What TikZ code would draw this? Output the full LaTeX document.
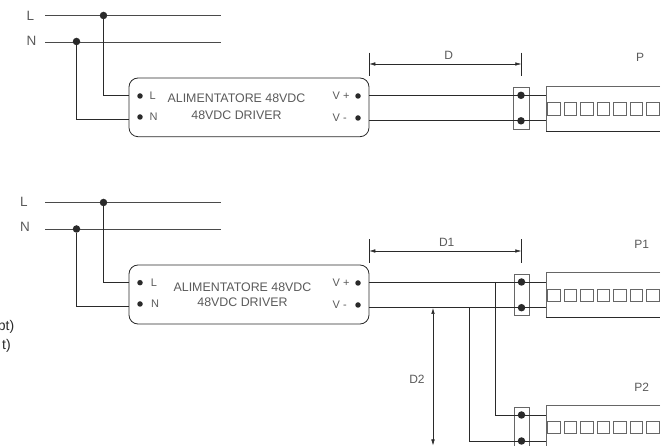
\documentclass[tikz,border=0pt]{standalone}
\usepackage{fontspec}
\setmainfont{Liberation Sans}
\usetikzlibrary{arrows.meta}
\definecolor{ink}{HTML}{2A2A2A}
\definecolor{txt}{HTML}{5A5A5A}
\definecolor{bord}{HTML}{666666}
\tikzset{
  x=1pt,y=-1pt,
  wire/.style={draw=ink,line width=0.8pt},
  mains/.style={draw=ink!85,line width=1pt},
  driver/.style={draw=ink,line width=0.8pt,rounded corners=9pt},
  dotbig/.style={circle,fill=ink,inner sep=0pt,minimum size=7.5pt},
  dotsmall/.style={circle,fill=ink,inner sep=0pt,minimum size=5.5pt},
  lab/.style={text=txt,font=\fontsize{12}{14}\selectfont,inner sep=0pt},
  mainlab/.style={text=txt,font=\fontsize{13.5}{15}\selectfont,inner sep=0pt},
  labs/.style={text=txt,font=\fontsize{11}{13}\selectfont,inner sep=0pt},
  drvlab/.style={text=txt,align=center,inner sep=0pt},
  term/.style={draw=bord,line width=0.8pt},
  stripedge/.style={draw=bord,line width=0.9pt},
  cell/.style={draw=bord,line width=0.7pt},
  dimline/.style={draw=ink,line width=0.5pt,{Latex[length=6pt,width=3.5pt]}-{Latex[length=6pt,width=3.5pt]}},
  ext/.style={draw=ink,line width=0.6pt},
  cliplab/.style={text=ink,font=\fontsize{14}{16}\selectfont,inner sep=0pt,anchor=east},
}
\newcommand{\ledcells}[1]{%
  \foreach \i in {0,...,6} {\draw[cell] (547.5+16.5*\i,#1) rectangle ++(12.5,12.5);}
}
\begin{document}
\begin{tikzpicture}
\useasboundingbox (0,0) rectangle (670,446);
% top group
\node[mainlab] (tl) at (30.5,15.5) {L};
\node[mainlab] (tn) at (31.5,41) {N};
\coordinate (tLs) at (45,15.5); \coordinate (tLe) at (221,15.5);
\coordinate (tNs) at (45,42.5); \coordinate (tNe) at (221,42.5);
\draw[mains] (tLs) -- (tLe);
\draw[mains] (tNs) -- (tNe);
\node[dotbig] (tj1) at (103.5,15.5) {};
\node[dotbig] (tj2) at (76.5,41.5) {};
\draw[driver] (129,78) rectangle (369,136.7);
\coordinate (tdL) at (129,95); \coordinate (tdN) at (129,119);
\draw[wire] (tj1) |- (tdL);
\draw[wire] (tj2) |- (tdN);
\node[dotsmall] (tdl1) at (140,96) {};
\node[dotsmall] (tdl2) at (140,117) {};
\node[labs] (tll) at (152.7,96) {L};
\node[labs] (tnl) at (153.5,117) {N};
\node[drvlab,font=\fontsize{12.4}{16.5}\selectfont] (tdrv) at (236.5,106.5) {ALIMENTATORE 48VDC\\48VDC DRIVER};
\node[labs,anchor=west] (tvp) at (332.5,96) {V +};
\node[labs,anchor=west] (tvm) at (332.5,118) {V -};
\node[dotsmall] (tdr1) at (358,96) {};
\node[dotsmall] (tdr2) at (358,118) {};
\draw[term] (513.3,87.3) rectangle (529,129.3);
\node[dotbig] (tt1) at (521,95.3) {};
\node[dotbig] (tt2) at (521,120.8) {};
\coordinate (tdr) at (369,95.3); \coordinate (tdn) at (369,120.3);
\coordinate (tsa) at (546,95.3); \coordinate (tsb) at (546,120.3);
\draw[wire] (tdr) -- (tsa);
\draw[wire] (tdn) -- (tsb);
\draw[stripedge] (660,86.7) -- (546,86.7) -- (546,131);
\draw[wire] (546,131) -- (660,131);
\ledcells{102.7}
\node[lab] (P) at (640,57) {P};
\coordinate (da) at (369.3,64); \coordinate (db) at (521.3,64);
\draw[ext] (369.3,52.7) -- (369.3,75.7);
\draw[ext] (521.3,52.7) -- (521.3,75.7);
\draw[dimline] (da) -- (db);
\node[lab] (D) at (448.7,55.7) {D};
% bottom group
\node[mainlab] (bl) at (24,202) {L};
\node[mainlab] (bn) at (25,227.3) {N};
\coordinate (bLs) at (45,202.5); \coordinate (bLe) at (221,202.5);
\coordinate (bNs) at (45,229.5); \coordinate (bNe) at (221,229.5);
\draw[mains] (bLs) -- (bLe);
\draw[mains] (bNs) -- (bNe);
\node[dotbig] (bj1) at (103.5,202.5) {};
\node[dotbig] (bj2) at (76.5,229) {};
\draw[driver] (129,265) rectangle (369,324);
\coordinate (bdL) at (129,282); \coordinate (bdN) at (129,306);
\draw[wire] (bj1) |- (bdL);
\draw[wire] (bj2) |- (bdN);
\node[dotsmall] (bdl1) at (140,282.7) {};
\node[dotsmall] (bdl2) at (140,304) {};
\node[labs] (bll) at (154,283) {L};
\node[labs] (bnl) at (155,304) {N};
\node[drvlab,font=\fontsize{12.4}{15.5}\selectfont] (bdrv) at (242.5,294.5) {ALIMENTATORE 48VDC\\48VDC DRIVER};
\node[labs,anchor=west] (bvp) at (332.5,283) {V +};
\node[labs,anchor=west] (bvm) at (332.5,305) {V -};
\node[dotsmall] (bdr1) at (358,283) {};
\node[dotsmall] (bdr2) at (358,305) {};
\draw[term] (514,274.3) rectangle (529.3,315.7);
\node[dotbig] (bt1) at (521.5,282) {};
\node[dotbig] (bt2) at (521.5,307.7) {};
\coordinate (bdr) at (369,282); \coordinate (bdn) at (369,307.7);
\coordinate (bsa) at (546,282); \coordinate (bsb) at (546,307.7);
\draw[wire] (bdr) -- (bsa);
\draw[wire] (bdn) -- (bsb);
\draw[stripedge] (660,272.7) -- (546,272.7) -- (546,317.3);
\draw[wire] (546,317.3) -- (660,317.3);
\ledcells{289.2}
\node[lab] (P1) at (641.7,244) {P1};
\coordinate (d1a) at (369.3,251); \coordinate (d1b) at (521.3,251);
\draw[ext] (369.3,239.3) -- (369.3,262.7);
\draw[ext] (521.3,239.3) -- (521.3,262.7);
\draw[dimline] (d1a) -- (d1b);
\node[lab] (D1) at (446.7,242.7) {D1};
\coordinate (d2a) at (433,308); \coordinate (d2b) at (433,445.5);
\draw[dimline] (d2a) -- (d2b);
\node[lab] (D2) at (417,379) {D2};
% P2
\draw[term] (514,407.3) rectangle (529.3,450);
\node[dotbig] (p2t1) at (521.5,415) {};
\node[dotbig] (p2t2) at (521.5,441) {};
\coordinate (j1) at (495,282); \coordinate (j2) at (469.3,307.7);
\coordinate (p2a) at (546,415); \coordinate (p2b) at (546,441);
\draw[wire] (j1) |- (p2a);
\draw[wire] (j2) |- (p2b);
\draw[stripedge] (660,405) -- (546,405) -- (546,450);
\ledcells{421}
\node[lab] (P2) at (641.7,387.7) {P2};
% clipped text at left edge
\node[cliplab] (c1) at (14.5,327) {pt)};
\node[cliplab] (c2) at (11,346) {t)};
\end{tikzpicture}
\end{document}
